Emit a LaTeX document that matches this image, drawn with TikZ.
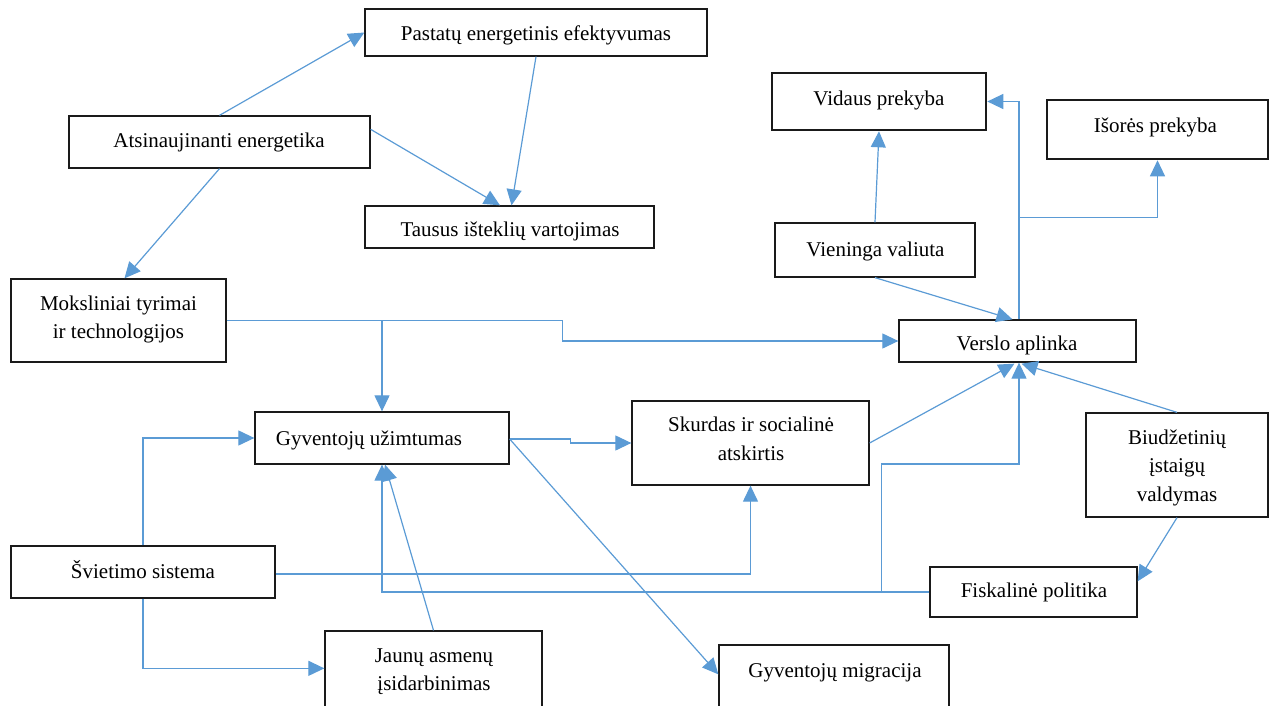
\documentclass[tikz,border=0pt]{standalone}
\usepackage{fontspec}
\setmainfont{Liberation Serif}
\usetikzlibrary{arrows.meta,calc}
\definecolor{arrowblue}{HTML}{5B9BD5}
\definecolor{boxline}{HTML}{1A1A1A}
\begin{document}
\begin{tikzpicture}[x=1pt,y=-1pt,
  box/.style={draw=boxline,line width=1.3pt,inner sep=0pt,fill=none},
  thickbox/.style={box,line width=2.6pt},
  txt/.style={inner sep=0pt,font=\fontsize{21}{28.5}\selectfont,text height=14.34pt,text depth=4.9pt},
  mtxt/.style={inner sep=0pt,font=\fontsize{21}{28.5}\selectfont,align=center},
  conn/.style={draw=arrowblue,line width=1.2pt},
  arr/.style={conn,-{Triangle[length=16pt,width=15pt]}}]
\useasboundingbox (0,0) rectangle (1270,706);
% boxes
\node[box,minimum width=342pt,minimum height=47pt] (pastaty) at (536,32.5) {};
\node[box,minimum width=301pt,minimum height=52pt] (atsin) at (219.5,142) {};
\node[box,minimum width=289pt,minimum height=42pt] (tausus) at (509.5,227) {};
\node[box,minimum width=215pt,minimum height=83pt] (moksl) at (118.5,320.5) {};
\node[thickbox,minimum width=214pt,minimum height=57pt] (vidaus) at (879,101.5) {};
\node[thickbox,minimum width=221pt,minimum height=59pt] (isores) at (1157.5,129.5) {};
\node[box,minimum width=200pt,minimum height=54pt] (vien) at (875,250) {};
\node[box,minimum width=237pt,minimum height=42pt] (verslo) at (1017.5,341) {};
\node[box,minimum width=254pt,minimum height=52pt] (gyv) at (382,438) {};
\node[box,minimum width=237pt,minimum height=84pt] (skurd) at (750.5,443) {};
\node[box,minimum width=182pt,minimum height=104pt] (biudz) at (1177,465) {};
\node[box,minimum width=264pt,minimum height=52pt] (sviet) at (143,572) {};
\node[box,minimum width=207pt,minimum height=50pt] (fiskal) at (1033.5,592) {};
\node[box,minimum width=217pt,minimum height=89pt] (jaunu) at (433.5,675.5) {};
\node[box,minimum width=230pt,minimum height=75pt] (migr) at (834,682.5) {};
% texts
\node[txt] (tpastaty) at (536,35.5) {Pastatų energetinis efektyvumas};
\node[txt] (tatsin) at (219,142.5) {Atsinaujinanti energetika};
\node[txt] (ttausus) at (510,232) {Tausus išteklių vartojimas};
\node[mtxt] (tmoksl) at (118.5,319.5) {Moksliniai tyrimai\\ir technologijos};
\node[txt] (tvidaus) at (879,100.5) {Vidaus prekyba};
\node[txt] (tisores) at (1155.5,127.5) {Išorės prekyba};
\node[txt] (tvien) at (875.5,251.5) {Vieninga valiuta};
\node[txt] (tverslo) at (1017,346) {Verslo aplinka};
\node[txt] (tgyv) at (369,440.5) {Gyventojų užimtumas};
\node[mtxt] (tskurd) at (751,439) {Skurdas ir socialinė\\atskirtis};
\node[mtxt] (tbiudz) at (1177,467.5) {Biudžetinių\\įstaigų\\valdymas};
\node[txt] (tsviet) at (143,573.5) {Švietimo sistema};
\node[txt] (tfiskal) at (1034,592.5) {Fiskalinė politika};
\node[mtxt] (tjaunu) at (434,671.5) {Jaunų asmenų\\įsidarbinimas};
\node[txt] (tmigr) at (835,672.5) {Gyventojų migracija};
% connectors
\draw[arr] (atsin.north) -- (pastaty.west);
\draw[arr] ($(atsin.north east)+(0,14)$) -- ($(tausus.north)+(-9.5,0)$);
\draw[arr] (pastaty.south) -- ($(tausus.north)+(2,0)$);
\draw[arr] (atsin.south) -- ($(moksl.north)+(6,0)$);
\draw[arr] (moksl.east) -- ++(336,0) |- (verslo.west);
\draw[arr] (gyv.north |- moksl.east) -- (gyv.north);
\draw[arr] ($(gyv.east)+(0,1)$) -- ++(61,0) |- (skurd.west);
\draw[arr] ($(gyv.east)+(0,1)$) -- ($(migr.north west)+(0,30)$);
\draw[arr] (sviet.north) |- (gyv.west);
\draw[arr] ($(sviet.east)+(0,2)$) -| (skurd.south);
\draw[arr] (sviet.south) |- ($(jaunu.north west)+(0,38)$);
\draw[arr] (jaunu.north) -- ($(gyv.south)+(3,0)$);
\draw[arr] (fiskal.west) -| (gyv.south);
\draw[arr] ($(fiskal.west)+(-48,0)$) -- ++(0,-128) -| ($(verslo.south)+(1.5,0)$);
\draw[arr] (skurd.east) -- ($(verslo.south)+(-3,1)$);
\draw[arr] (biudz.north) -- ($(verslo.south)+(4,1)$);
\draw[arr] (biudz.south) -- ($(fiskal.north east)+(0,15)$);
\draw[arr] (vien.south) -- ($(verslo.north)+(-5,0)$);
\draw[arr] (vien.north) -- (vidaus.south);
\draw[arr] ($(verslo.north)+(1.5,0)$) |- (vidaus.east);
\draw[arr] ($(verslo.north)+(1.5,-102)$) -| (isores.south);
\end{tikzpicture}
\end{document}
